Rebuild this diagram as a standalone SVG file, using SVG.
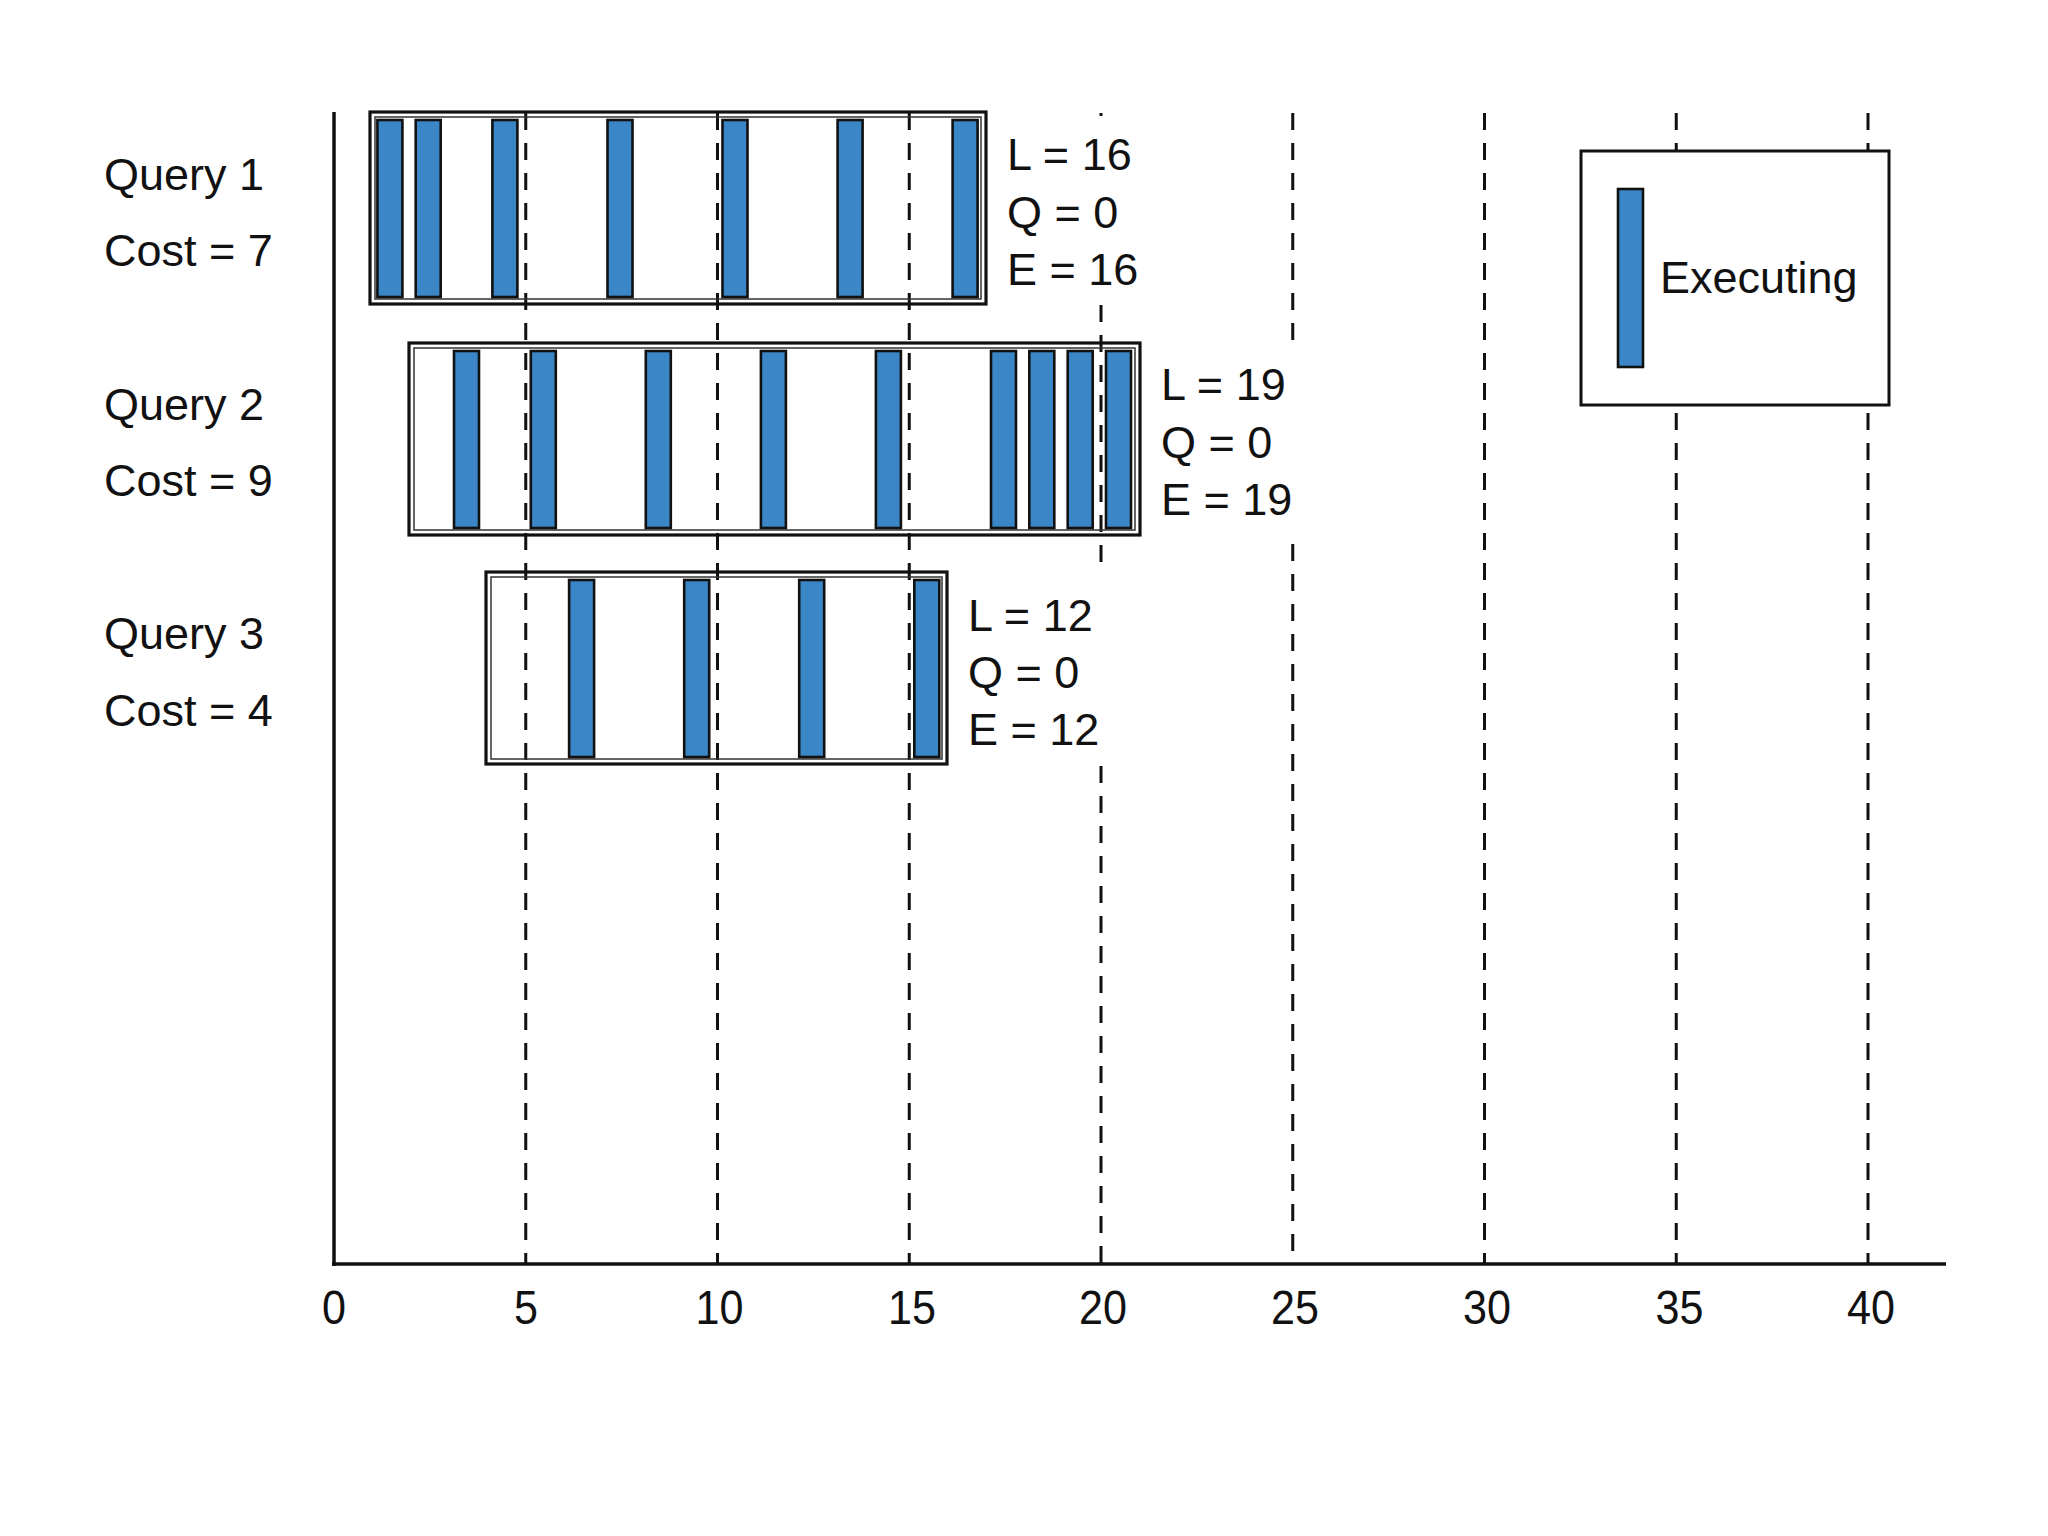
<svg xmlns="http://www.w3.org/2000/svg" width="2048" height="1536" viewBox="0 0 2048 1536">
<style>
.t{font-family:"Liberation Sans",Arial,sans-serif;font-size:45px;fill:#111}
.ax{font-family:"Liberation Sans",Arial,sans-serif;font-size:49px;fill:#111;text-anchor:middle}
.grid{stroke:#111;stroke-width:3;stroke-dasharray:17 13;fill:none}
.outer{fill:none;stroke:#111;stroke-width:3.2}
.inner{fill:none;stroke:#333;stroke-width:1.5}
.bar{fill:#3a86c6;stroke:#111;stroke-width:2.6}
.axis{stroke:#111;stroke-width:3.5;fill:none}
</style>
<rect width="2048" height="1536" fill="#ffffff"/>
<g id="gridlines">
<line class="grid" x1="525.75" y1="113" x2="525.75" y2="1264"/>
<line class="grid" x1="717.5" y1="113" x2="717.5" y2="1264"/>
<line class="grid" x1="909.25" y1="113" x2="909.25" y2="1264"/>
<line class="grid" x1="1101" y1="113" x2="1101" y2="116"/>
<line class="grid" x1="1101" y1="305" x2="1101" y2="575"/>
<line class="grid" x1="1101" y1="766" x2="1101" y2="1264"/>
<line class="grid" x1="1292.75" y1="113" x2="1292.75" y2="341"/>
<line class="grid" x1="1292.75" y1="544" x2="1292.75" y2="1264"/>
<line class="grid" x1="1484.5" y1="113" x2="1484.5" y2="1264"/>
<line class="grid" x1="1676.25" y1="113" x2="1676.25" y2="1264"/>
<line class="grid" x1="1868" y1="113" x2="1868" y2="1264"/>
</g>
<g id="query1">
<text class="t" x="104" y="190">Query 1</text>
<text class="t" x="104" y="266">Cost = 7</text>
<rect class="outer" x="370" y="112" width="616" height="192"/>
<rect class="inner" x="375" y="117" width="606" height="182"/>
<rect class="bar" x="377.4" y="120" width="25" height="177"/>
<rect class="bar" x="415.7" y="120" width="25" height="177"/>
<rect class="bar" x="492.4" y="120" width="25" height="177"/>
<rect class="bar" x="607.5" y="120" width="25" height="177"/>
<rect class="bar" x="722.5" y="120" width="25" height="177"/>
<rect class="bar" x="837.6" y="120" width="25" height="177"/>
<rect class="bar" x="952.6" y="120" width="25" height="177"/>
<text class="t" x="1007" y="170">L = 16</text>
<text class="t" x="1007" y="228">Q = 0</text>
<text class="t" x="1007" y="285">E = 16</text>
</g>
<g id="query2">
<text class="t" x="104" y="420">Query 2</text>
<text class="t" x="104" y="496">Cost = 9</text>
<rect class="outer" x="409" y="343" width="731" height="192"/>
<rect class="inner" x="414" y="348" width="721" height="182"/>
<rect class="bar" x="454" y="351" width="25" height="177"/>
<rect class="bar" x="530.8" y="351" width="25" height="177"/>
<rect class="bar" x="645.8" y="351" width="25" height="177"/>
<rect class="bar" x="760.9" y="351" width="25" height="177"/>
<rect class="bar" x="875.9" y="351" width="25" height="177"/>
<rect class="bar" x="991" y="351" width="25" height="177"/>
<rect class="bar" x="1029.3" y="351" width="25" height="177"/>
<rect class="bar" x="1067.7" y="351" width="25" height="177"/>
<rect class="bar" x="1106" y="351" width="25" height="177"/>
<text class="t" x="1161" y="400">L = 19</text>
<text class="t" x="1161" y="458">Q = 0</text>
<text class="t" x="1161" y="515">E = 19</text>
</g>
<g id="query3">
<text class="t" x="104" y="649">Query 3</text>
<text class="t" x="104" y="726">Cost = 4</text>
<rect class="outer" x="486" y="572" width="461" height="192"/>
<rect class="inner" x="491" y="577" width="451" height="182"/>
<rect class="bar" x="569.1" y="580" width="25" height="177"/>
<rect class="bar" x="684.2" y="580" width="25" height="177"/>
<rect class="bar" x="799.2" y="580" width="25" height="177"/>
<rect class="bar" x="914.3" y="580" width="25" height="177"/>
<text class="t" x="968" y="631">L = 12</text>
<text class="t" x="968" y="688">Q = 0</text>
<text class="t" x="968" y="745">E = 12</text>
</g>
<g id="legend">
<rect x="1581" y="151" width="308" height="254" fill="#ffffff" stroke="#111" stroke-width="3"/>
<rect class="bar" x="1618" y="189" width="25" height="178"/>
<text class="t" x="1660" y="293">Executing</text>
</g>
<g id="axes">
<line class="axis" x1="334" y1="112" x2="334" y2="1266"/>
<line class="axis" x1="332" y1="1264" x2="1946" y2="1264" stroke-width="4"/>
<text class="ax" transform="translate(334,1324) scale(0.88,1)">0</text>
<text class="ax" transform="translate(526,1324) scale(0.88,1)">5</text>
<text class="ax" transform="translate(719.5,1324) scale(0.88,1)">10</text>
<text class="ax" transform="translate(912,1324) scale(0.88,1)">15</text>
<text class="ax" transform="translate(1103,1324) scale(0.88,1)">20</text>
<text class="ax" transform="translate(1295,1324) scale(0.88,1)">25</text>
<text class="ax" transform="translate(1487,1324) scale(0.88,1)">30</text>
<text class="ax" transform="translate(1679.5,1324) scale(0.88,1)">35</text>
<text class="ax" transform="translate(1871,1324) scale(0.88,1)">40</text>
</g>
</svg>
